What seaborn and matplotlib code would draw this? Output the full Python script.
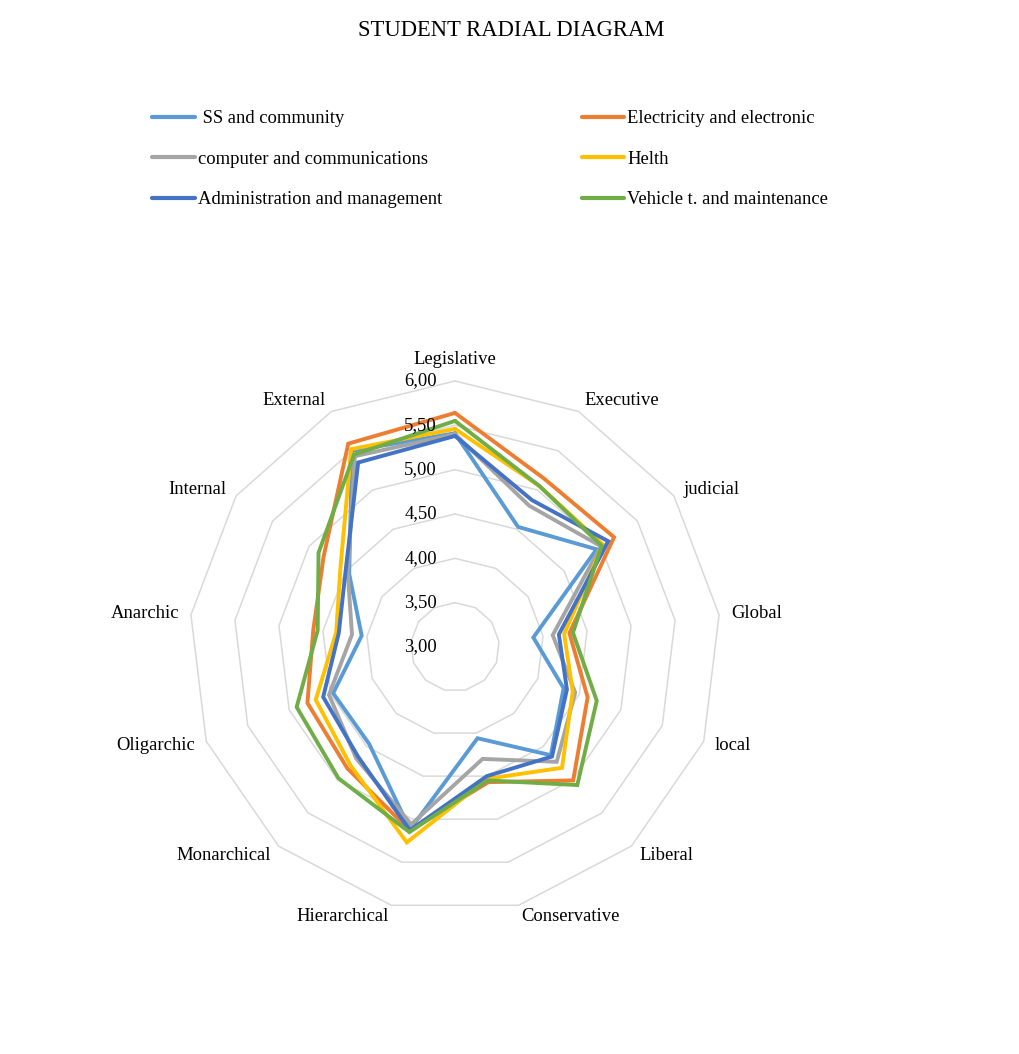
import numpy as np
import pandas as pd
import matplotlib
matplotlib.use("Agg")
import matplotlib.pyplot as plt
from matplotlib.lines import Line2D
import seaborn as sns

categories = ["Legislative", "Executive", "judicial", "Global", "local", "Liberal",
              "Conservative", "Hierarchical", "Monarchical", "Oligarchic", "Anarchic",
              "Internal", "External"]

series_names = [" SS and community", "Electricity and electronic",
                "computer and communications", "Helth",
                "Administration and management", "Vehicle t. and maintenance"]

ss_community = [5.41, 4.53, 4.94, 3.89, 4.31, 4.63, 4.06, 5.12, 4.46, 4.47, 4.06, 4.45, 5.50]
electricity = [5.64, 5.15, 5.18, 4.30, 4.60, 5.01, 4.57, 5.13, 4.83, 4.78, 4.61, 4.80, 5.59]
computer = [5.40, 4.80, 5.00, 4.11, 4.45, 4.73, 4.30, 5.06, 4.68, 4.52, 4.17, 4.47, 5.43]
helth = [5.46, 5.05, 5.03, 4.24, 4.42, 4.82, 4.53, 5.27, 4.78, 4.68, 4.35, 4.57, 5.52]
administration = [5.38, 4.87, 5.10, 4.18, 4.35, 4.65, 4.50, 5.13, 4.65, 4.59, 4.32, 4.50, 5.35]
vehicle = [5.55, 5.05, 5.01, 4.34, 4.71, 5.08, 4.55, 5.15, 4.98, 4.91, 4.56, 4.87, 5.45]

radial_ticks = [3.0, 3.5, 4.0, 4.5, 5.0, 5.5, 6.0]
radial_labels = ["3,00", "3,50", "4,00", "4,50", "5,00", "5,50", "6,00"]

colors = ["#5B9BD5", "#ED7D31", "#A5A5A5", "#FFC000", "#4472C4", "#70AD47"]

sns.set_style("white")
plt.rcParams["font.family"] = ["Liberation Serif", "DejaVu Serif"]
plt.rcParams["text.color"] = "black"

values = [ss_community, electricity, computer, helth, administration, vehicle]
n = len(categories)
theta = np.arange(n) * 2 * np.pi / n
theta_closed = np.append(theta, 2 * np.pi)

rows = []
for name, vals in zip(series_names, values):
    vv = list(vals) + [vals[0]]
    for t, v in zip(theta_closed, vv):
        rows.append({"theta": t, "value": v, "series": name})
df = pd.DataFrame(rows)

W, H = 1020, 1054
fig = plt.figure(figsize=(W / 100, H / 100), dpi=100)

cx, cy = 455, 647
rmax = 6.3
ppu = 266 / 3.0
R = (rmax - 3.0) * ppu
ax = fig.add_axes([(cx - R) / W, (H - cy - R) / H, 2 * R / W, 2 * R / H], projection="polar")
ax.set_theta_offset(np.pi / 2)
ax.set_theta_direction(-1)

# polygon grid rings
for v in radial_ticks[1:]:
    ax.plot(theta_closed, [v] * (n + 1), color="#D9D9D9", lw=1.1, zorder=1, clip_on=False)

sns.lineplot(data=df, x="theta", y="value", hue="series", hue_order=series_names,
             palette=colors, estimator=None, sort=False, lw=2.8, legend=False,
             ax=ax, zorder=3)
for ln in ax.lines[len(radial_ticks) - 1:]:
    ln.set_solid_joinstyle("miter")

ax.set_ylim(3.0, rmax)
ax.set_xticks([])
ax.set_yticks([])
ax.grid(False)
ax.spines["polar"].set_visible(False)
ax.set_xlabel("")
ax.set_ylabel("")

fs = 13.4
# category labels
for t, lab in zip(theta, categories):
    s, c = np.sin(t), np.cos(t)
    if abs(s) < 1e-6:
        ax.annotate(lab, xy=(t, 6.0), xytext=(0, 13), textcoords="offset pixels",
                    ha="center", va="bottom", fontsize=fs, color="black")
    else:
        ha = "left" if s > 0 else "right"
        ax.annotate(lab, xy=(t, 6.0), xytext=(12 * s, 12 * c), textcoords="offset pixels",
                    ha=ha, va="center", fontsize=fs, color="black")

# radial tick labels
for v, lab in zip(radial_ticks, radial_labels):
    ax.annotate(lab, xy=(0, v), xytext=(-18, 0), textcoords="offset pixels",
                ha="right", va="center", fontsize=fs, color="black")

fig.text(511 / W, 1 - 31 / H, "STUDENT RADIAL DIAGRAM", ha="center", va="center",
         fontsize=16.3, color="black")

handles = {name: Line2D([0], [0], color=c, lw=3.0, solid_capstyle="round")
           for name, c in zip(series_names, colors)}
order = [series_names[0], series_names[2], series_names[4],
         series_names[1], series_names[3], series_names[5]]
leg = fig.legend([handles[k] for k in order], order, loc="upper left",
                 bbox_to_anchor=(152 / W, 1 - 110 / H), ncol=2, frameon=False,
                 fontsize=fs, handlelength=2.3, handletextpad=0.16, columnspacing=7.5,
                 labelspacing=1.27, borderpad=0, borderaxespad=0)
for txt in leg.get_texts():
    txt.set_color("black")

fig.savefig("out.png", dpi=100)
